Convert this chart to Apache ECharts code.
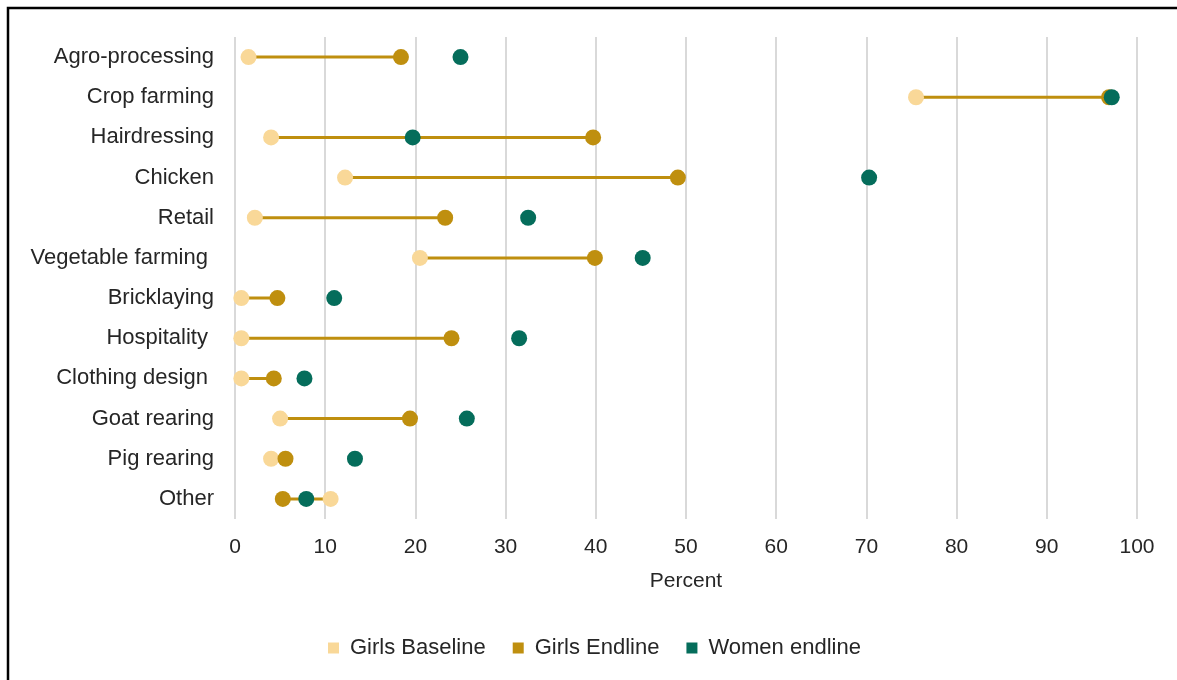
<!DOCTYPE html>
<html>
<head>
<meta charset="utf-8">
<script src="https://cdn.jsdelivr.net/npm/echarts@6/dist/echarts.min.js"></script>
<style>
html,body{margin:0;padding:0;background:#fff;}
#chart{width:1177px;height:680px;}
</style>
</head>
<body>
<div id="chart"></div>
<script>
const categories = ['Agro-processing','Crop farming','Hairdressing','Chicken','Retail','Vegetable farming','Bricklaying','Hospitality','Clothing design','Goat rearing','Pig rearing','Other'];
const categoryLabels = ['Agro-processing','Crop farming','Hairdressing','Chicken','Retail','Vegetable farming ','Bricklaying','Hospitality ','Clothing design ','Goat rearing','Pig rearing','Other'];
const girlsBaseline = [1.5, 75.5, 4.0, 12.2, 2.2, 20.5, 0.7, 0.7, 0.7, 5.0, 4.0, 10.6];
const girlsEndline  = [18.4, 96.9, 39.7, 49.1, 23.3, 39.9, 4.7, 24.0, 4.3, 19.4, 5.6, 5.3];
const womenEndline  = [25.0, 97.2, 19.7, 70.3, 32.5, 45.2, 11.0, 31.5, 7.7, 25.7, 13.3, 7.9];
const xTicks = [0,10,20,30,40,50,60,70,80,90,100];
const seriesNames = ['Girls Baseline','Girls Endline','Women endline'];

const FONT = '"Liberation Sans", Arial, sans-serif';
const TXT = '#262626';
const C_BASE = '#F9D898', C_END = '#BF8F0F', C_WOMEN = '#056D5B';

const chart = echarts.init(document.getElementById('chart'));
chart.setOption({
  animation: false,
  backgroundColor: '#fff',
  textStyle: {fontFamily: FONT},
  graphic: [{
    type: 'rect', z: 100, silent: true,
    shape: {x: 8, y: 8, width: 1300, height: 800},
    style: {fill: 'none', stroke: '#000', lineWidth: 2.5}
  }],
  grid: {left: 235, right: 40, top: 37, bottom: 161, containLabel: false},
  legend: {
    data: seriesNames,
    left: 323, top: 632,
    icon: 'rect', itemWidth: 11, itemHeight: 11, itemGap: 27,
    textStyle: {fontSize: 22, color: TXT, fontFamily: FONT, padding: [0,0,0,6]}
  },
  xAxis: {
    type: 'value', min: xTicks[0], max: xTicks[xTicks.length-1], interval: 10,
    axisLine: {show: false}, axisTick: {show: false},
    splitLine: {show: true, lineStyle: {color: '#D9D9D9', width: 2}},
    axisLabel: {fontSize: 21, color: TXT, margin: 18, fontFamily: FONT},
    name: 'Percent', nameLocation: 'middle', nameGap: 52,
    nameTextStyle: {fontSize: 21, color: TXT, fontFamily: FONT}
  },
  yAxis: {
    type: 'category', data: categories, inverse: true,
    axisLine: {show: false}, axisTick: {show: false}, splitLine: {show: false},
    axisLabel: {fontSize: 22, color: TXT, margin: 21, fontFamily: FONT,
      formatter: (v, i) => categoryLabels[i]}
  },
  series: [
    {
      name: 'connector', type: 'custom', z: 1,
      data: categories.map((c, i) => [girlsBaseline[i], girlsEndline[i], i]),
      encode: {x: [0, 1], y: 2},
      renderItem: function (params, api) {
        const y = api.value(2);
        const p1 = api.coord([api.value(0), y]);
        const p2 = api.coord([api.value(1), y]);
        return {type: 'line', shape: {x1: p1[0], y1: p1[1], x2: p2[0], y2: p2[1]},
          style: {stroke: C_END, lineWidth: 3}};
      },
      silent: true
    },
    {
      name: seriesNames[0], type: 'scatter', z: 2, symbol: 'circle', symbolSize: 16,
      itemStyle: {color: C_BASE, opacity: 1},
      data: categories.map((c, i) => [girlsBaseline[i], c])
    },
    {
      name: seriesNames[1], type: 'scatter', z: 3, symbol: 'circle', symbolSize: 16,
      itemStyle: {color: C_END, opacity: 1},
      data: categories.map((c, i) => [girlsEndline[i], c])
    },
    {
      name: seriesNames[2], type: 'scatter', z: 4, symbol: 'circle', symbolSize: 16,
      itemStyle: {color: C_WOMEN, opacity: 1},
      data: categories.map((c, i) => [womenEndline[i], c])
    }
  ]
});
</script>
</body>
</html>
